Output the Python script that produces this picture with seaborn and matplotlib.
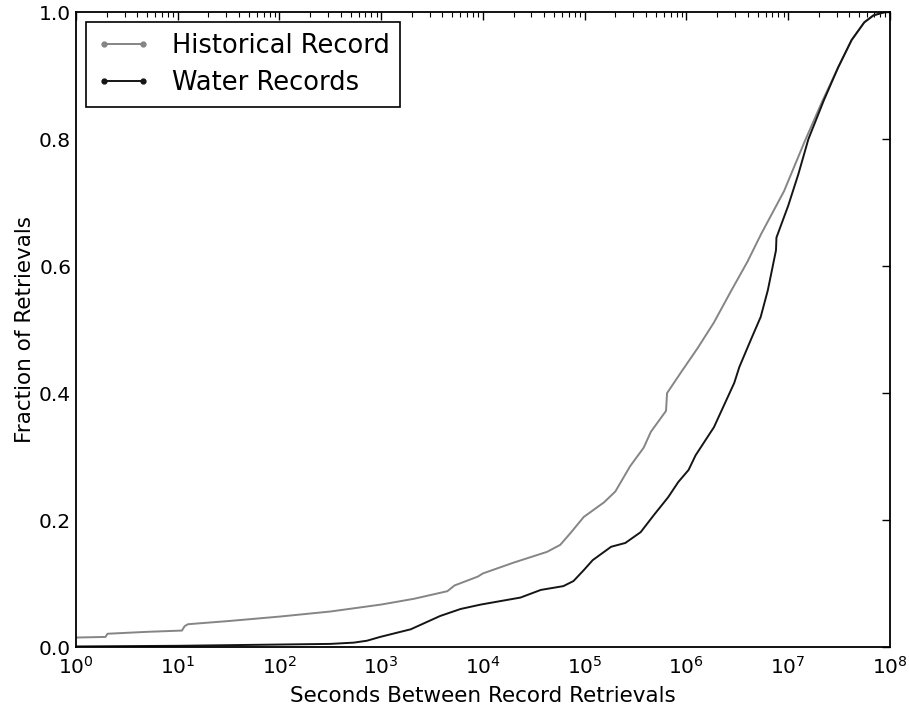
import matplotlib
matplotlib.use('Agg')
import matplotlib.pyplot as plt
from matplotlib.lines import Line2D
import seaborn as sns

sns.set_style('white')
plt.rcParams['font.family'] = ['DejaVu Sans']
plt.rcParams['text.color'] = 'black'
plt.rcParams['axes.labelcolor'] = 'black'
plt.rcParams['xtick.color'] = 'black'
plt.rcParams['ytick.color'] = 'black'

# Seconds between retrievals and cumulative fraction
hist_seconds = [1, 1.95, 2.04, 5.0, 11, 11.7, 12.6, 31.6, 100, 316, 1000, 2090, 4470,
                5250, 8900, 1.0e4, 2.0e4, 4.27e4, 5.75e4, 7.2e4, 9.8e4, 1.55e5, 2.0e5,
                2.8e5, 3.8e5, 4.47e5, 6.3e5, 6.45e5, 8.7e5, 1.29e6, 1.86e6, 2.75e6,
                3.98e6, 5.4e6, 9.1e6, 1.45e7, 2.14e7, 3.1e7, 4.2e7, 5.6e7, 6.9e7, 8.9e7]
hist_frac = [0.015, 0.016, 0.021, 0.024, 0.026, 0.033, 0.036, 0.041, 0.048, 0.056, 0.067,
             0.076, 0.088, 0.097, 0.111, 0.116, 0.133, 0.150, 0.161, 0.179, 0.205, 0.228,
             0.245, 0.285, 0.314, 0.339, 0.372, 0.400, 0.431, 0.471, 0.511, 0.561, 0.607,
             0.650, 0.718, 0.796, 0.858, 0.913, 0.956, 0.984, 0.995, 1.0]

water_seconds = [1, 10, 100, 316, 537, 724, 977, 1950, 3800, 6030, 9550, 2.34e4, 3.7e4,
                 6.17e4, 7.76e4, 9.77e4, 1.2e5, 1.82e5, 2.51e5, 3.55e5, 4.79e5, 6.61e5,
                 8.32e5, 1.05e6, 1.23e6, 1.74e6, 1.86e6, 2.95e6, 3.31e6, 4.27e6, 5.37e6,
                 6.31e6, 7.59e6, 7.67e6, 1.0e7, 1.26e7, 1.58e7, 2.24e7, 3.1e7, 4.2e7,
                 5.6e7, 6.9e7, 8.9e7]
water_frac = [0.001, 0.002, 0.004, 0.005, 0.007, 0.010, 0.016, 0.028, 0.049, 0.060, 0.067,
              0.078, 0.090, 0.096, 0.104, 0.121, 0.137, 0.158, 0.164, 0.181, 0.208, 0.236,
              0.260, 0.279, 0.302, 0.339, 0.346, 0.416, 0.441, 0.483, 0.520, 0.562, 0.625,
              0.645, 0.695, 0.745, 0.800, 0.861, 0.913, 0.956, 0.984, 0.995, 1.0]

series_names = ['Historical Record', 'Water Records']
series_colors = ['#858585', '#151515']

fig, ax = plt.subplots(figsize=(9.09, 7.15), dpi=100)
fig.subplots_adjust(left=0.0836, right=0.979, bottom=0.095, top=0.983)

sns.lineplot(x=hist_seconds, y=hist_frac, ax=ax, color=series_colors[0],
             lw=1.4, estimator=None, sort=False)
sns.lineplot(x=water_seconds, y=water_frac, ax=ax, color=series_colors[1],
             lw=1.4, estimator=None, sort=False)

ax.set_xscale('log')
ax.set_xlim(1, 1e8)
ax.set_ylim(0, 1.0)
ax.set_yticks([0.0, 0.2, 0.4, 0.6, 0.8, 1.0])
ax.set_yticklabels(['0.0', '0.2', '0.4', '0.6', '0.8', '1.0'])

ax.tick_params(which='both', direction='in', top=True, right=True,
               color='black', labelsize=14.5)
ax.tick_params(which='major', length=6, width=1)
ax.tick_params(which='minor', length=3.5, width=0.8)
ax.tick_params(axis='x', which='major', pad=6)
ax.tick_params(axis='y', which='major', pad=3.5)
for s in ax.spines.values():
    s.set_color('black')
    s.set_linewidth(1.3)

ax.set_xlabel('Seconds Between Record Retrievals', fontsize=15.5, labelpad=6)
ax.set_ylabel('Fraction of Retrievals', fontsize=15.5, labelpad=3)

# legend with the old-style two-point markers
handles = [Line2D([], [], color=c, lw=1.4, marker='o', markersize=3.5)
           for c in series_colors]
leg = ax.legend(handles, series_names, loc='upper left', fontsize=18.5,
                numpoints=2, fancybox=False, frameon=True, edgecolor='black',
                borderaxespad=0.4, handlelength=2.1, handletextpad=0.85,
                borderpad=0.4, labelspacing=0.45)
leg.get_frame().set_linewidth(1.2)
leg.get_frame().set_alpha(1)

plt.savefig('out.png', dpi=100)
